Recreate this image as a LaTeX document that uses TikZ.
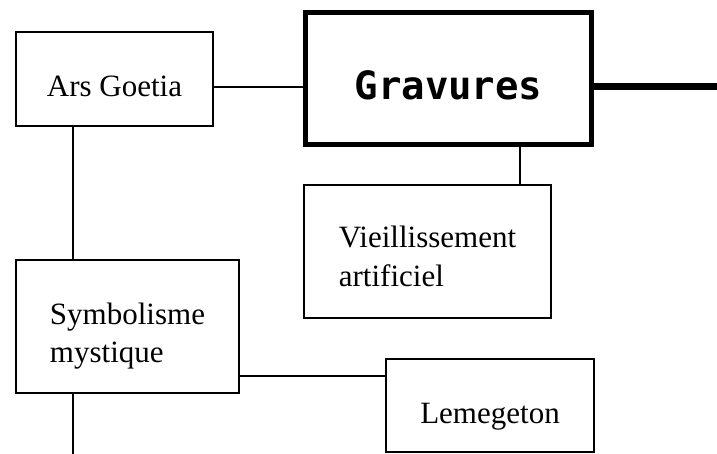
\documentclass[tikz,border=0pt]{standalone}
\usepackage{fontspec}
\setmainfont{Liberation Serif}
\newfontfamily\gravfont{DejaVu Sans Mono}
\begin{document}
\begin{tikzpicture}[x=1pt,y=-1pt,
  box/.style={draw=black, line width=2pt, rectangle, inner sep=0pt,
    font=\fontsize{31pt}{38pt}\selectfont},
  bigbox/.style={draw=black, line width=5pt, rectangle, inner sep=0pt,
    font=\gravfont\bfseries\fontsize{39pt}{46pt}\selectfont},
  conn/.style={draw=black, line width=2pt},
  bigconn/.style={draw=black, line width=7pt}]
\useasboundingbox[fill=white] (0,0) rectangle (717,454);

\node[box, minimum width=197pt, minimum height=94pt, text height=57pt, text depth=21pt]
  (ars) at (114.5,79) {Ars Goetia};
\node[bigbox, minimum width=286pt, minimum height=132pt, text height=69pt, text depth=27pt]
  (grav) at (448.5,78.5) {Gravures};
\node[box, minimum width=247pt, minimum height=133pt, text height=22pt, text depth=29pt]
  (vieil) at (427.5,251.5) {\begin{tabular}[t]{@{}l@{}}Vieillissement\\artificiel\end{tabular}};
\node[box, minimum width=223pt, minimum height=133pt, text height=22pt, text depth=27pt]
  (sym) at (127.5,326.5) {\begin{tabular}[t]{@{}l@{}}Symbolisme\\mystique\end{tabular}};
\node[box, minimum width=208pt, minimum height=93pt, text height=57pt, text depth=22pt]
  (lem) at (490,405.5) {Lemegeton};

\coordinate (rend) at (717,87);
\coordinate (bend) at (73,454);

\draw[conn] ([yshift=-8pt]ars.east) -- ([yshift=-8.5pt]grav.west);
\draw[bigconn] ([yshift=-8.5pt]grav.east) -- (rend);
\draw[conn] ([xshift=71.5pt]grav.south) -- ([xshift=92.5pt]vieil.north);
\draw[conn] ([xshift=-41.5pt]ars.south) -- ([xshift=-54.5pt]sym.north);
\draw[conn] ([yshift=-49.5pt]sym.east) -- ([yshift=29.5pt]lem.west);
\draw[conn] ([xshift=-54.5pt]sym.south) -- (bend);
\end{tikzpicture}
\end{document}
